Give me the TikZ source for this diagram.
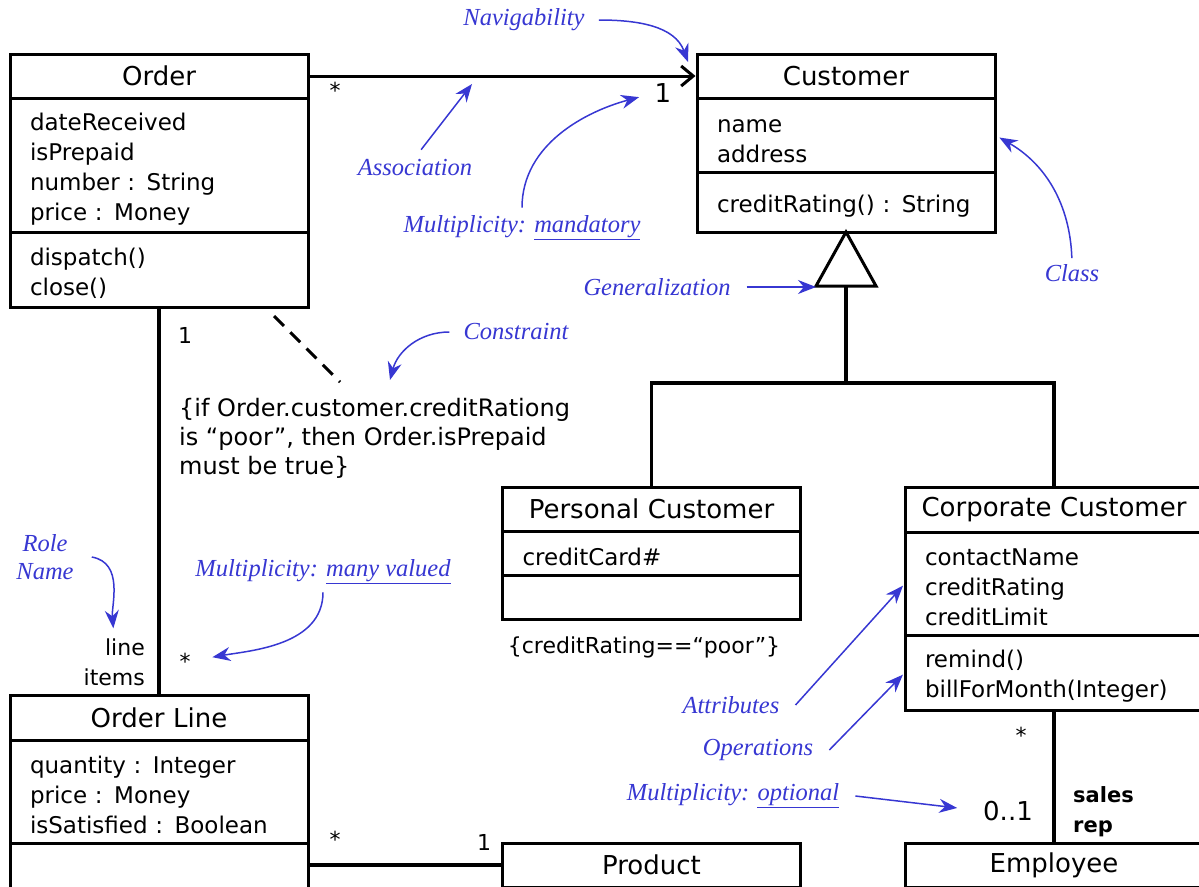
\documentclass[tikz,border=0pt]{standalone}
\usepackage{fontspec}
\setmainfont{DejaVu Sans}
\newfontfamily\notefont{Liberation Serif}
\usetikzlibrary{arrows.meta}
\definecolor{noteblue}{RGB}{55,55,210}
\tikzstyle{classname} = [rectangle, draw=black, line width=3pt, outer sep=0pt,
                         text width=290pt, inner xsep=4pt, minimum height=44pt,
                         align=center, font=\fontsize{26}{30}\selectfont]
\tikzstyle{classpart} = [rectangle, draw=black, line width=3pt, outer sep=0pt,
                         text width=258pt, inner xsep=20pt, inner ysep=0pt,
                         execute at begin node={\rule{0pt}{25pt}},
                         anchor=north, align=left, font=\fontsize{23}{30}\selectfont]
\tikzstyle{mult} = [inner sep=0pt, font=\fontsize{22}{26}\selectfont]
\tikzstyle{note} = [text=noteblue, inner sep=2pt,
                    font=\notefont\itshape\fontsize{24.5}{28}\selectfont]
\tikzstyle{link} = [line width=3.5pt]
\tikzstyle{arrow} = [draw=noteblue, line width=1.5pt, -{Stealth[length=18pt,width=14pt]}]

\begin{document}
\begin{tikzpicture}[x=1pt, y=-1pt]
        \clip (0,0) rectangle (1199,886);
        
        \node (Order) [classname] at (159,76) {Order};
        \node (OrderAttr) [classpart, minimum height=134pt] at (Order.south) {dateReceived\\isPrepaid\\number : String\\price : Money};
        \node (OrderOps) [classpart, minimum height=75pt] at (OrderAttr.south) {dispatch()\\close()};
        
        \node (Customer) [classname] at (846,76) {Customer};
        \node (CustAttr) [classpart, minimum height=74pt] at (Customer.south) {name\\address};
        \node (CustOps) [classpart, minimum height=60pt] at (CustAttr.south) {creditRating() : String};
        
        \node (PersCust) [classname] at (651.5,509) {Personal Customer};
        \node (PersAttr) [classpart, minimum height=44pt] at (PersCust.south) {creditCard\#};
        \node (PersOps) [classpart, minimum height=44pt] at (PersAttr.south) {};
        
        \node (CorpCust) [classname, minimum height=45pt] at (1054,509.5) {Corporate Customer};
        \node (CorpAttr) [classpart, minimum height=103pt] at (CorpCust.south) {contactName\\creditRating\\creditLimit};
        \node (CorpOps) [classpart, minimum height=75pt] at (CorpAttr.south) {remind()\\billForMonth(Integer)};
        
        \node (OrderLine) [classname, minimum height=45pt] at (159,717.5) {Order Line};
        \node (OLAttr) [classpart, minimum height=103pt] at (OrderLine.south) {quantity : Integer\\price : Money\\isSatisfied : Boolean};
        \node (OLOps) [classpart, minimum height=80pt] at (OLAttr.south) {};
        
        \node (Product) [classname] at (651.5,865) {Product};
        \node (Employee) [classname] at (1054,865) {Employee};
        
        % associations
        \draw [link, line width=3pt, shorten <=1.5pt, shorten >=1.5pt, -{Straight Barb[length=12pt,width=20pt]}] (Order.east) -- (Customer.west);
        \draw [link] (OrderOps.south) -- (OrderLine.north);
        \draw [link] (Product.west -| OLOps.east) -- (Product.west);
        \draw [link] (CorpOps.south) -- (Employee.north);
        
        % generalization
        \coordinate (GenBase) at (846,286);
        \coordinate (GenJoin) at (846,383);
        \draw [link, line width=3pt, line join=miter] (CustOps.south) -- ++(-30,54) -- ++(60,0) -- cycle;
        \draw [link] (GenBase) -- (GenJoin);
        \draw [link] (GenJoin) -| (PersCust.north);
        \draw [link] (GenJoin) -| (CorpCust.north);
        
        % constraints
        \node (Constraint) [anchor=west, align=left, inner sep=0pt, font=\fontsize{24}{29}\selectfont] at (179,438) {\{if Order.customer.creditRationg\\is “poor”, then Order.isPrepaid\\must be true\}};
        \coordinate (DashStart) at (274,316);
        \coordinate (DashEnd) at (340,382);
        \draw [link, line width=3pt, dash pattern=on 14pt off 9pt] (DashStart) -- (DashEnd);
        \node (PersRule) [font=\fontsize{22}{26}\selectfont] at (644,647) {\{creditRating==“poor”\}};
        
        % multiplicities and roles
        \node (StarOrder) [mult] at (335,90) {*};
        \node (OneCust) [mult, font=\fontsize{26}{30}\selectfont] at (663,93) {1};
        \node (OneOrder) [mult] at (185,335) {1};
        \node (StarOL) [mult] at (185,661) {*};
        \node (StarProd) [mult] at (335,839) {*};
        \node (OneProd) [mult] at (484,842) {1};
        \node (StarCorp) [mult] at (1021,735) {*};
        \node (ZeroOne) [mult, font=\fontsize{26}{30}\selectfont] at (1008,811) {0..1};
        \node (LineItems) [mult, anchor=east, align=right, font=\fontsize{22}{30}\selectfont] at (145,662) {line\\items};
        \node (SalesRep) [mult, anchor=west, align=left, font=\bfseries\fontsize{21}{30}\selectfont] at (1073,812) {sales\\rep};
        
        % notes
        \node (NavNote) [note] at (524,20) {Navigability};
        \coordinate (NavEnd) at (688,62);
        \draw [arrow] ([xshift=12pt]NavNote.east) to [out=0, in=110] (NavEnd);
        
        \node (AssocNote) [note] at (415,168) {Association};
        \coordinate (AssocEnd) at (472,84);
        \draw [arrow, shorten <=10pt] (AssocNote.north) -- (AssocEnd);
        
        \node (MandNote) [note] at (522,228) {Multiplicity: \underline{mandatory}};
        \draw [arrow, shorten <=6pt, shorten >=16pt] (MandNote.north) to [out=90, in=195] (OneCust.west);
        
        \node (GenNote) [note] at (657,287) {Generalization};
        \coordinate (GenTip) at (816,287);
        \draw [arrow] ([xshift=14pt]GenNote.east) -- (GenTip);
        
        \node (ClassNote) [note] at (1072,273) {Class};
        \draw [arrow, shorten <=4pt, shorten >=5pt] (ClassNote.north) to [out=92, in=-30] (CustAttr.east);
        
        \node (ConstrNote) [note] at (516,332) {Constraint};
        \coordinate (ConstrEnd) at (390,380);
        \draw [arrow] ([xshift=-12pt]ConstrNote.west) to [out=180, in=75] (ConstrEnd);
        
        \node (RoleNote) [note, align=center] at (45,557) {Role\\Name};
        \draw [arrow, shorten >=10pt] ([xshift=16pt]RoleNote.east) to [out=-10, in=95] (LineItems.north);
        
        \node (ManyNote) [note] at (323,572) {Multiplicity: \underline{many valued}};
        \draw [arrow, shorten <=6pt, shorten >=22pt] (ManyNote.south) to [out=-90, in=10] (StarOL.east);
        
        \node (AttrNote) [note] at (731,705) {Attributes};
        \draw [arrow, shorten >=3pt] ([xshift=14pt]AttrNote.east) -- (CorpAttr.west);
        
        \node (OperNote) [note] at (758,750) {Operations};
        \draw [arrow, shorten >=3pt] ([xshift=14pt]OperNote.east) -- (CorpOps.west);
        
        \node (OptNote) [note] at (733,796) {Multiplicity: \underline{optional}};
        \draw [arrow, shorten >=26pt] ([xshift=14pt]OptNote.east) -- (ZeroOne.west);
    
    \end{tikzpicture}
\end{document}
